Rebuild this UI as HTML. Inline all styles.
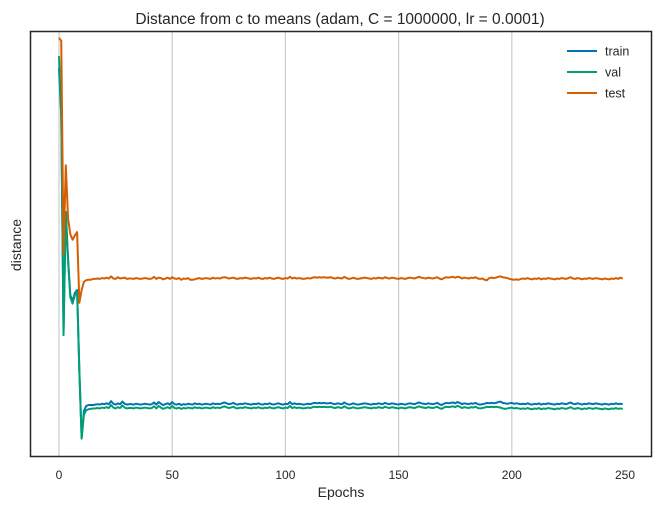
<!DOCTYPE html>
<html><head><meta charset="utf-8"><style>
body{margin:0;background:#fff;}
svg text{font-family:"Liberation Sans","DejaVu Sans",sans-serif;fill:#262626;}
</style></head><body>
<svg id="chart" width="660" height="510" viewBox="0 0 660 510" xmlns="http://www.w3.org/2000/svg">
<rect x="0" y="0" width="660" height="510" fill="#fff"/>
<text x="340" y="24" font-size="15.5" text-anchor="middle">Distance from c to means (adam, C = 1000000, lr = 0.0001)</text>
<g id="grid"></g>
<g id="ticks"></g>
<g id="series"></g>
<rect x="30.5" y="31.5" width="621" height="425" fill="none" stroke="#262626" stroke-width="1.5"/>
<text x="341" y="497" font-size="14" text-anchor="middle">Epochs</text>
<text x="21" y="245" font-size="14" text-anchor="middle" transform="rotate(-90 21 245)">distance</text>
<g id="legend"></g>
</svg>
<script>
const xTicks=[0,50,100,150,200,250];
const seriesNames=["train","val","test"];
const trainHead=[91.3,80,29.8,57.5,46.5,38,36.6,38.5,39.2,20,4.5,10.8,12,12.2,12.2,12.2];
const trainTail=[12.3,12.4,12.3,12.5,12.4,12.6,12.4,13.1,12.5,12.3,12.6,12.4,13.0,12.5,12.3,12.4,12.4,12.3,
12.5,12.4,12.3,12.4,12.5,12.4,12.3,12.4,12.8,12.3,12.9,12.5,12.2,12.4,12.6,12.3,12.9,12.4,
12.3,12.5,12.2,12.4,12.3,12.5,12.4,12.3,12.6,12.4,12.5,12.3,12.4,12.5,12.4,12.3,12.6,12.4,
12.5,12.4,12.6,12.8,12.6,12.4,12.5,12.7,12.4,12.3,12.5,12.4,12.6,12.5,12.4,12.3,12.5,12.4,
12.6,12.4,12.3,12.5,12.4,12.6,12.4,12.3,12.5,12.6,12.4,12.3,12.5,12.4,12.9,12.4,12.6,12.4,
12.5,12.4,12.3,12.4,12.5,12.4,12.6,12.7,12.6,12.7,12.6,12.7,12.6,12.6,12.7,12.5,12.4,12.6,
12.5,12.4,12.8,12.5,12.3,12.4,12.6,12.4,12.3,12.4,12.5,12.6,12.5,12.4,12.3,12.5,12.4,12.6,
12.5,12.4,12.7,12.5,12.4,12.6,12.5,12.4,12.3,12.5,12.4,12.3,12.5,12.6,12.5,12.4,12.6,12.8,
12.6,12.5,12.4,12.6,12.5,12.4,12.5,12.7,12.4,12.2,12.5,12.7,12.6,12.7,12.8,12.6,12.9,12.7,
12.4,12.6,12.5,12.4,12.6,12.5,12.7,12.4,12.3,12.4,12.5,12.7,12.6,12.7,12.6,12.7,12.9,13.0,
12.7,12.6,12.5,12.6,12.7,12.5,12.6,12.5,12.4,12.5,12.4,12.6,12.4,12.3,12.5,12.4,12.6,12.3,
12.5,12.4,12.6,12.5,12.4,12.3,12.5,12.4,12.6,12.5,12.4,12.6,12.8,12.5,12.4,12.6,12.5,12.3,
12.5,12.4,12.6,12.5,12.4,12.6,12.5,12.4,12.3,12.5,12.4,12.3,12.5,12.4,12.6,12.4,12.5,12.4];
const valHead=[94.1,80,28.6,57.5,46,37.5,36,38,38.8,20,4.3,9.9,11,11.2,11.3,11.4];
const valTail=[11.4,11.5,11.4,11.6,11.5,11.7,11.5,12.2,11.6,11.4,11.7,11.5,12.1,11.6,11.4,11.5,11.5,11.4,
11.6,11.5,11.4,11.5,11.6,11.5,11.4,11.5,11.9,11.4,12.0,11.6,11.3,11.5,11.7,11.4,12.0,11.5,
11.4,11.6,11.3,11.5,11.4,11.6,11.5,11.4,11.7,11.5,11.6,11.4,11.5,11.6,11.5,11.4,11.7,11.5,
11.6,11.5,11.7,11.9,11.7,11.5,11.6,11.8,11.5,11.4,11.6,11.5,11.7,11.6,11.5,11.4,11.6,11.5,
11.7,11.5,11.4,11.6,11.5,11.7,11.5,11.4,11.6,11.7,11.5,11.4,11.6,11.5,12.0,11.5,11.7,11.5,
11.6,11.5,11.4,11.5,11.6,11.5,11.7,11.8,11.7,11.8,11.7,11.8,11.7,11.7,11.8,11.6,11.5,11.7,
11.6,11.5,11.9,11.6,11.4,11.5,11.7,11.5,11.4,11.5,11.6,11.7,11.6,11.5,11.4,11.6,11.5,11.7,
11.6,11.5,11.8,11.6,11.5,11.7,11.6,11.5,11.4,11.6,11.5,11.4,11.6,11.7,11.6,11.5,11.7,11.9,
11.7,11.6,11.5,11.7,11.6,11.5,11.6,11.8,11.5,11.3,11.6,11.8,11.7,11.8,11.9,11.7,12.0,11.8,
11.5,11.7,11.6,11.5,11.7,11.6,11.8,11.5,11.4,11.5,11.6,11.8,11.7,11.8,11.7,11.8,11.7,11.6,
11.4,11.3,11.4,11.5,11.6,11.4,11.5,11.4,11.3,11.4,11.3,11.5,11.3,11.2,11.4,11.3,11.5,11.2,
11.4,11.3,11.5,11.4,11.3,11.2,11.4,11.3,11.5,11.4,11.3,11.5,11.7,11.4,11.3,11.5,11.4,11.2,
11.4,11.3,11.5,11.4,11.3,11.5,11.4,11.3,11.2,11.4,11.3,11.2,11.4,11.3,11.5,11.3,11.4,11.3];
const testHead=[98.4,97.7,47.7,68.5,56,52.3,51,52,52.8,36.2,39.2,41.1,41.5,41.6,41.6,41.8];
const testTail=[41.8,41.9,41.8,42.0,41.9,42.1,41.9,42.4,41.9,41.8,42.2,41.9,42.0,42.1,41.8,41.9,41.9,41.8,
42.0,41.9,41.8,41.9,42.0,41.9,41.8,41.9,42.3,41.8,42.1,42.0,41.7,41.9,42.1,41.8,42.2,41.9,
41.8,42.0,41.6,41.9,41.8,42.0,41.6,41.6,41.7,41.9,42.0,41.8,41.9,42.0,41.9,41.8,42.1,41.9,
42.0,41.9,42.1,42.2,42.1,41.9,42.0,42.1,41.9,41.8,42.0,41.9,42.1,42.0,41.9,41.8,42.0,41.9,
42.1,41.9,41.8,42.0,41.9,42.1,41.9,41.8,42.0,42.1,41.9,41.8,42.0,41.9,42.3,41.9,42.1,41.9,
42.0,41.9,41.8,41.9,42.0,41.9,42.1,42.2,42.1,42.2,42.1,42.2,42.1,42.1,42.2,42.0,41.9,42.1,
42.0,41.9,42.3,42.0,41.8,41.9,42.1,41.9,41.8,41.9,42.0,42.1,42.0,41.9,41.8,42.0,41.9,42.1,
42.0,41.9,42.2,42.0,41.9,42.1,42.0,41.9,41.8,42.0,41.9,41.8,42.0,42.1,42.0,41.9,42.1,42.3,
42.1,42.0,41.9,42.1,42.0,41.9,42.0,42.2,41.9,41.7,42.0,42.2,42.1,42.2,42.3,42.1,42.3,42.2,
41.9,42.1,42.0,41.9,42.1,42.0,42.2,41.9,41.8,41.9,41.6,41.5,42.0,42.1,42.0,42.1,42.3,42.4,
42.2,42.1,42.0,41.8,41.7,41.6,41.7,41.6,41.8,41.9,41.8,42.0,41.8,41.7,41.9,41.8,42.0,41.7,
41.9,41.8,42.0,41.9,41.8,41.7,41.9,41.8,42.0,41.9,41.8,42.0,42.2,41.9,41.8,42.0,41.9,41.7,
41.9,41.8,42.0,41.9,41.8,42.0,41.9,41.8,41.7,41.9,41.8,41.7,41.9,41.8,42.0,41.8,42.1,41.9];
const train=trainHead.concat(trainTail), val=valHead.concat(valTail), test=testHead.concat(testTail);
const NS="http://www.w3.org/2000/svg";
const xs=v=>59+v*(625-59)/250;
const ys=v=>457-v*4.26;
const grid=document.getElementById('grid'), ticks=document.getElementById('ticks');
xTicks.forEach(t=>{
  if(t<250){const l=document.createElementNS(NS,'line');
  
  
  l.setAttribute('x1',xs(t));l.setAttribute('x2',xs(t));l.setAttribute('y1',31);l.setAttribute('y2',457);
  l.setAttribute('stroke','#cccccc');l.setAttribute('stroke-width','1.2');grid.appendChild(l);}
  const tx=document.createElementNS(NS,'text');
  
  
  tx.setAttribute('x',xs(t));tx.setAttribute('y',479);tx.setAttribute('font-size','12');tx.setAttribute('text-anchor','middle');
  tx.textContent=t;ticks.appendChild(tx);
});
const colors=["#0173b2","#029e73","#d55e00"];
const data=[train,val,test];
const sg=document.getElementById('series'), lg=document.getElementById('legend');
[0,1,2].forEach(i=>{
  const p=document.createElementNS(NS,'polyline');
  
  
  p.setAttribute('points',data[i].map((v,k)=>xs(k).toFixed(2)+','+ys(v).toFixed(2)).join(' '));
  p.setAttribute('fill','none');p.setAttribute('stroke',colors[i]);p.setAttribute('stroke-width','2');p.setAttribute('stroke-linejoin','round');
  sg.appendChild(p);
  const y=51+i*21;
  const l=document.createElementNS(NS,'line');
  
  
  l.setAttribute('x1',567);l.setAttribute('x2',597);l.setAttribute('y1',y);l.setAttribute('y2',y);
  l.setAttribute('stroke',colors[i]);l.setAttribute('stroke-width','2');lg.appendChild(l);
  const t=document.createElementNS(NS,'text');
  
  
  t.setAttribute('x',605);t.setAttribute('y',y+4.5);t.setAttribute('font-size','12.5');
  t.textContent=seriesNames[i];lg.appendChild(t);
});
</script>
</body></html>
